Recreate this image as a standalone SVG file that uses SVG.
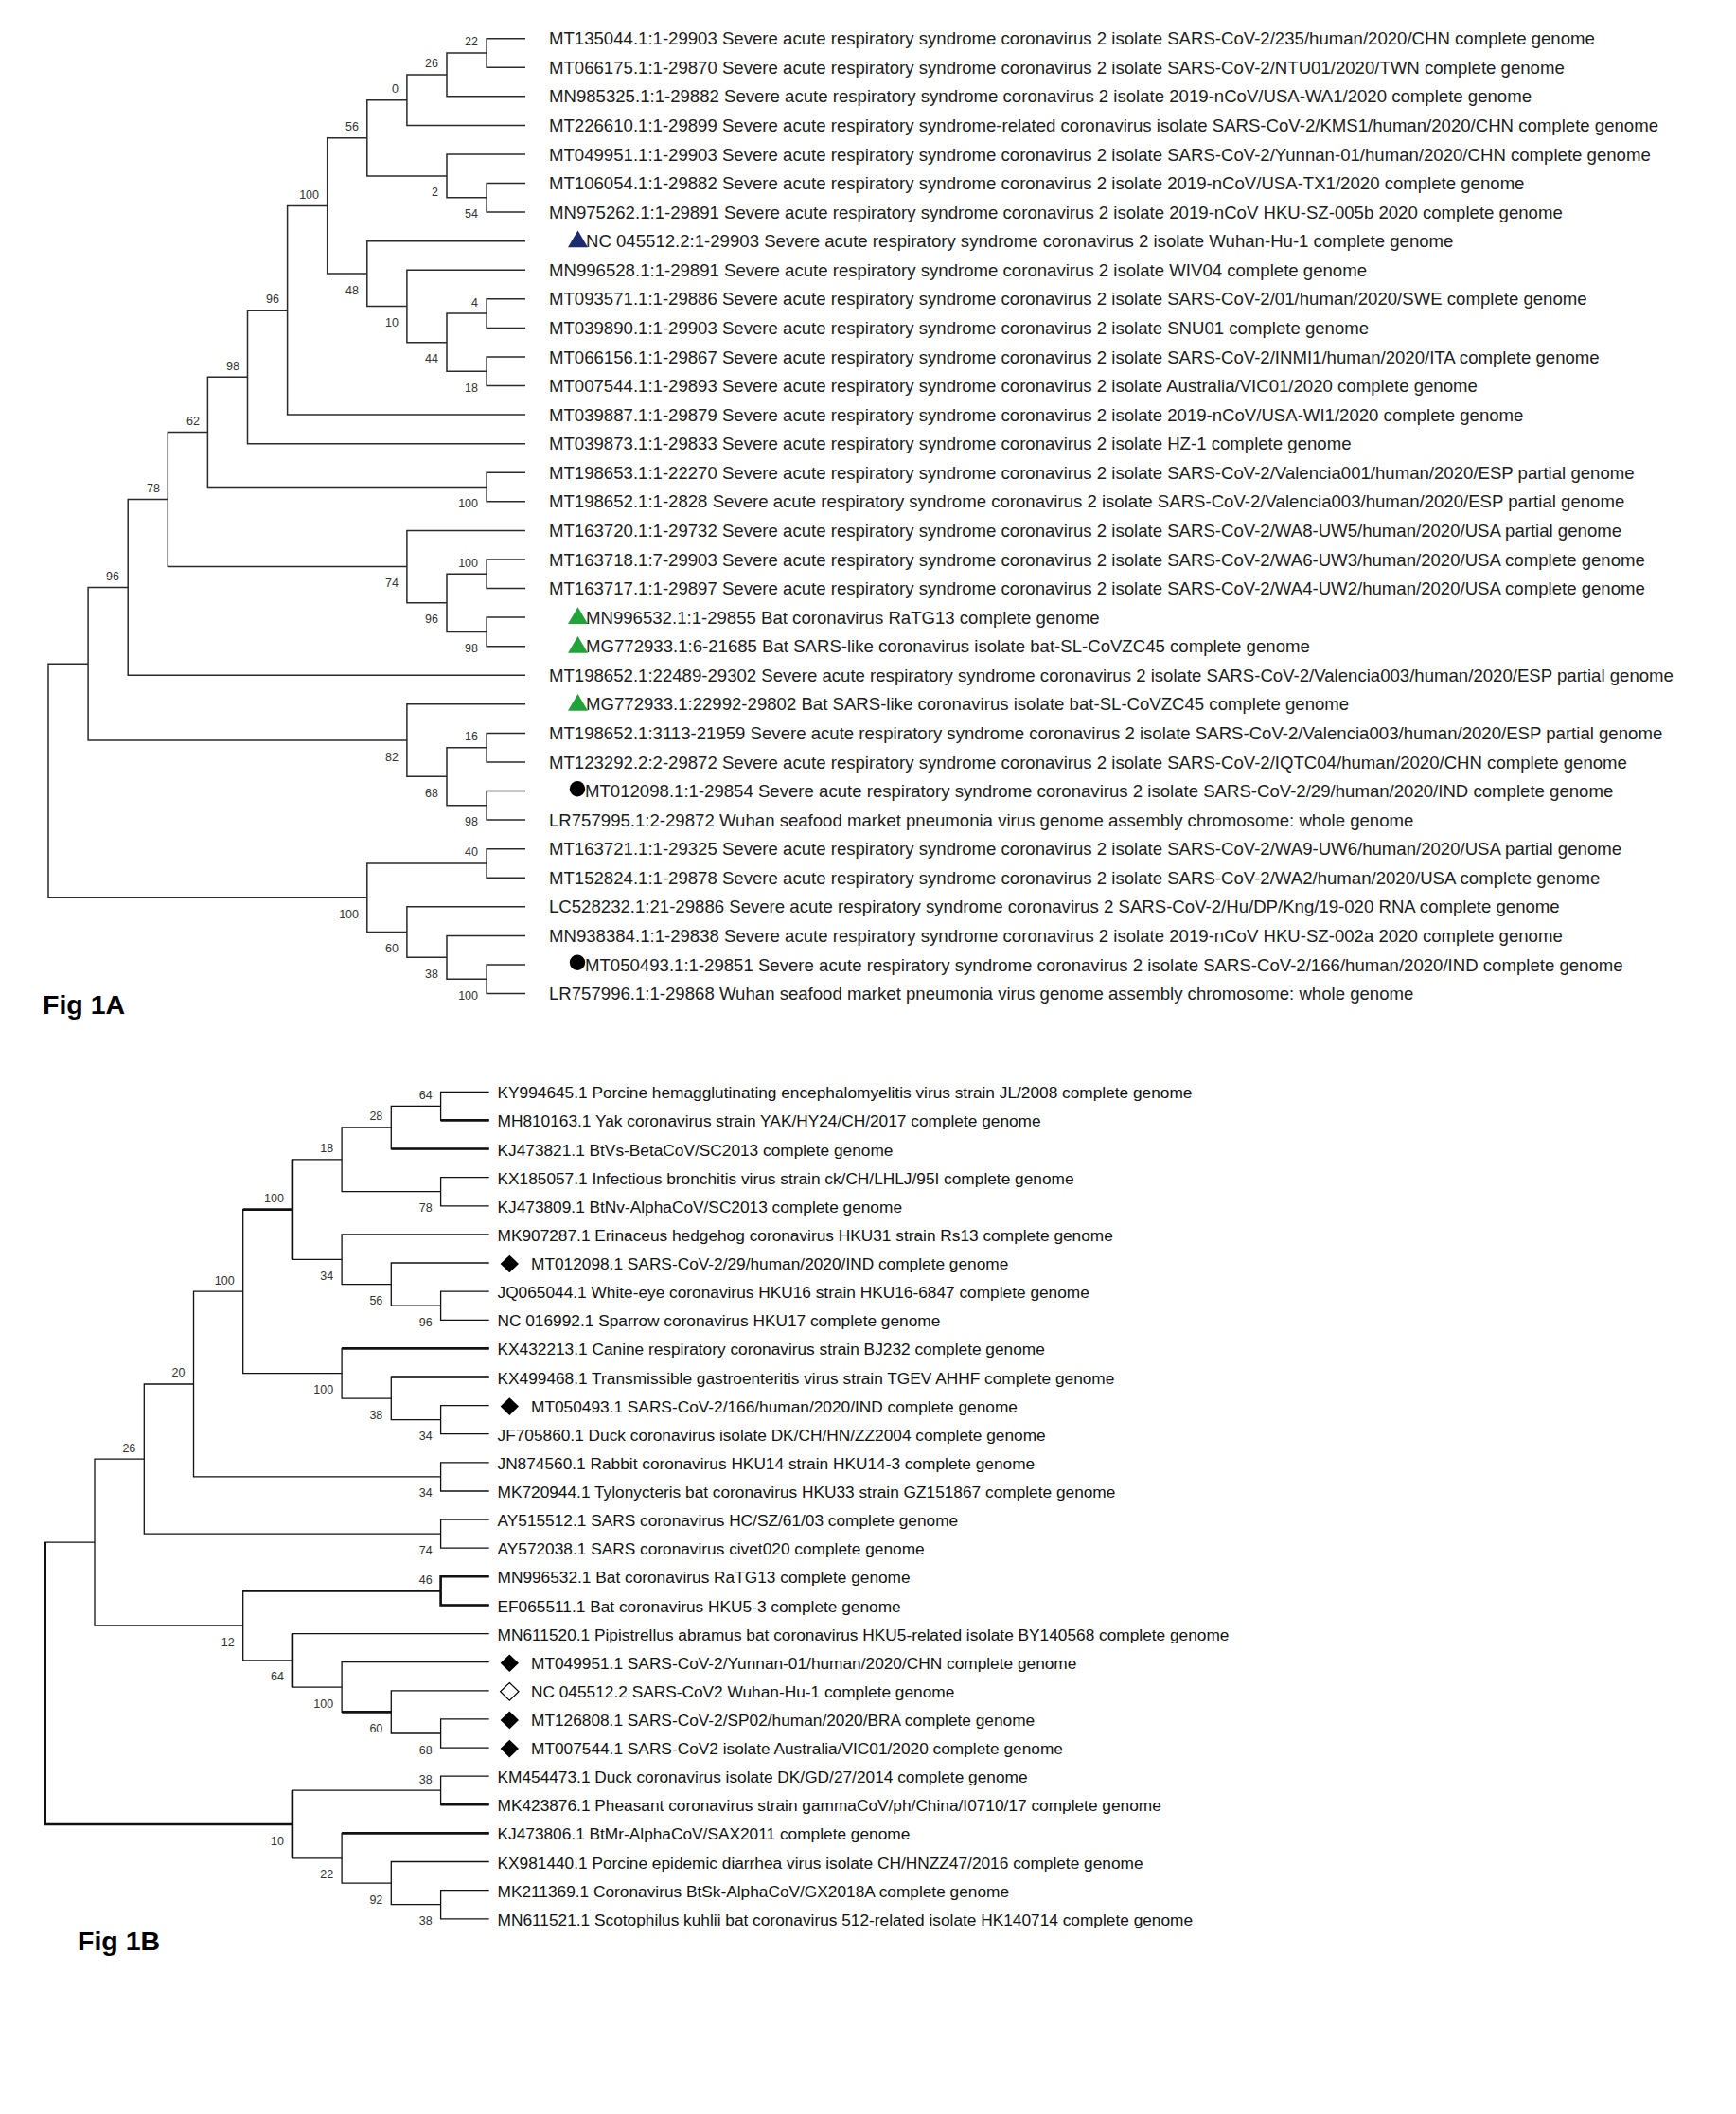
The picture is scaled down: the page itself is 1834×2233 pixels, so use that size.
<svg xmlns="http://www.w3.org/2000/svg" width="1834" height="2233" viewBox="0 0 1834 2233">
<style>
.ta{font-family:"Liberation Sans",Arial,sans-serif;font-size:18.6px;fill:#1c1c1c}
.tb{font-family:"Liberation Sans",Arial,sans-serif;font-size:17.3px;fill:#111}
.bs{font-family:"Liberation Sans",Arial,sans-serif;font-size:12.5px;fill:#333;text-anchor:end}
.ea{fill:none;stroke:#2a2a2a;stroke-width:1.5}
.eb{fill:none;stroke:#111;stroke-width:1.3}
.tk{fill:none;stroke:#111;stroke-width:2.6}
.fig{font-family:"Liberation Sans",Arial,sans-serif;font-size:28.5px;font-weight:bold;fill:#000}
.tri-n{fill:#1c2a6e}
.tri-g{fill:#22a33a}
.dot{fill:#000}
.dia{fill:#000}
.dia-o{fill:#fff;stroke:#000;stroke-width:1.2}
</style>
<rect width="1834" height="2233" fill="#fff"/>

<g id="connectors-1A" class="ea">
<path d="M555,40.7H514.1V71.3H555"/>
<path d="M514.1,56H472V101.8H555"/>
<path d="M472,78.9H429.9V132.4H555"/>
<path d="M555,193.6H514.1V224.1H555"/>
<path d="M555,163H472V208.8H514.1"/>
<path d="M429.9,105.7H387.8V185.9H472"/>
<path d="M555,315.8H514.1V346.4H555"/>
<path d="M555,377H514.1V407.5H555"/>
<path d="M514.1,331.1H472V392.3H514.1"/>
<path d="M555,285.3H429.9V361.7H472"/>
<path d="M555,254.7H387.8V323.5H429.9"/>
<path d="M387.8,145.8H345.7V289.1H387.8"/>
<path d="M345.7,217.4H303.6V438.1H555"/>
<path d="M303.6,327.8H261.5V468.7H555"/>
<path d="M555,499.3H514.1V529.8H555"/>
<path d="M261.5,398.2H219.4V514.5H514.1"/>
<path d="M555,591H514.1V621.5H555"/>
<path d="M555,652.1H514.1V682.7H555"/>
<path d="M514.1,606.3H472V667.4H514.1"/>
<path d="M555,560.4H429.9V636.8H472"/>
<path d="M219.4,456.4H177.3V598.6H429.9"/>
<path d="M177.3,527.5H135.2V713.2H555"/>
<path d="M555,774.4H514.1V805H555"/>
<path d="M555,835.5H514.1V866.1H555"/>
<path d="M514.1,789.7H472V850.8H514.1"/>
<path d="M555,743.8H429.9V820.2H472"/>
<path d="M135.2,620.4H93.1V782H429.9"/>
<path d="M555,896.7H514.1V927.2H555"/>
<path d="M555,1018.9H514.1V1049.5H555"/>
<path d="M555,988.4H472V1034.2H514.1"/>
<path d="M555,957.8H429.9V1011.3H472"/>
<path d="M514.1,912H387.8V984.6H429.9"/>
<path d="M93.1,701.2H51V948.3H387.8"/>
</g>

<g id="support-1A" class="bs">
<text x="505" y="48.4">22</text>
<text x="463" y="71.3">26</text>
<text x="421" y="98">0</text>
<text x="379" y="138.2">56</text>
<text x="463" y="207.4">2</text>
<text x="505" y="230.3">54</text>
<text x="337" y="209.8">100</text>
<text x="379" y="310.6">48</text>
<text x="505" y="323.5">4</text>
<text x="421" y="345">10</text>
<text x="463" y="383.2">44</text>
<text x="505" y="413.8">18</text>
<text x="295" y="320.2">96</text>
<text x="253" y="390.6">98</text>
<text x="211" y="448.8">62</text>
<text x="505" y="536">100</text>
<text x="169" y="519.9">78</text>
<text x="421" y="620.1">74</text>
<text x="505" y="598.7">100</text>
<text x="463" y="658.3">96</text>
<text x="505" y="688.9">98</text>
<text x="126" y="612.8">96</text>
<text x="505" y="782.1">16</text>
<text x="421" y="803.5">82</text>
<text x="463" y="841.7">68</text>
<text x="505" y="872.3">98</text>
<text x="505" y="904.4">40</text>
<text x="379" y="969.8">100</text>
<text x="421" y="1006.1">60</text>
<text x="463" y="1032.8">38</text>
<text x="505" y="1055.7">100</text>
</g>

<g id="leaves-1A" class="ta">
<g id="a0"><text x="580" y="47.3">MT135044.1:1-29903 Severe acute respiratory syndrome coronavirus 2 isolate SARS-CoV-2/235/human/2020/CHN complete genome</text></g>
<g id="a1"><text x="580" y="77.9">MT066175.1:1-29870 Severe acute respiratory syndrome coronavirus 2 isolate SARS-CoV-2/NTU01/2020/TWN complete genome</text></g>
<g id="a2"><text x="580" y="108.4">MN985325.1:1-29882 Severe acute respiratory syndrome coronavirus 2 isolate 2019-nCoV/USA-WA1/2020 complete genome</text></g>
<g id="a3"><text x="580" y="139">MT226610.1:1-29899 Severe acute respiratory syndrome-related coronavirus isolate SARS-CoV-2/KMS1/human/2020/CHN complete genome</text></g>
<g id="a4"><text x="580" y="169.6">MT049951.1:1-29903 Severe acute respiratory syndrome coronavirus 2 isolate SARS-CoV-2/Yunnan-01/human/2020/CHN complete genome</text></g>
<g id="a5"><text x="580" y="200.2">MT106054.1:1-29882 Severe acute respiratory syndrome coronavirus 2 isolate 2019-nCoV/USA-TX1/2020 complete genome</text></g>
<g id="a6"><text x="580" y="230.7">MN975262.1:1-29891 Severe acute respiratory syndrome coronavirus 2 isolate 2019-nCoV HKU-SZ-005b 2020 complete genome</text></g>
<g id="a7"><polygon class="tri-n" points="600,261.2 621,261.2 610.5,243.5"/><text x="619" y="261.3">NC 045512.2:1-29903 Severe acute respiratory syndrome coronavirus 2 isolate Wuhan-Hu-1 complete genome</text></g>
<g id="a8"><text x="580" y="291.9">MN996528.1:1-29891 Severe acute respiratory syndrome coronavirus 2 isolate WIV04 complete genome</text></g>
<g id="a9"><text x="580" y="322.4">MT093571.1:1-29886 Severe acute respiratory syndrome coronavirus 2 isolate SARS-CoV-2/01/human/2020/SWE complete genome</text></g>
<g id="a10"><text x="580" y="353">MT039890.1:1-29903 Severe acute respiratory syndrome coronavirus 2 isolate SNU01 complete genome</text></g>
<g id="a11"><text x="580" y="383.6">MT066156.1:1-29867 Severe acute respiratory syndrome coronavirus 2 isolate SARS-CoV-2/INMI1/human/2020/ITA complete genome</text></g>
<g id="a12"><text x="580" y="414.1">MT007544.1:1-29893 Severe acute respiratory syndrome coronavirus 2 isolate Australia/VIC01/2020 complete genome</text></g>
<g id="a13"><text x="580" y="444.7">MT039887.1:1-29879 Severe acute respiratory syndrome coronavirus 2 isolate 2019-nCoV/USA-WI1/2020 complete genome</text></g>
<g id="a14"><text x="580" y="475.3">MT039873.1:1-29833 Severe acute respiratory syndrome coronavirus 2 isolate HZ-1 complete genome</text></g>
<g id="a15"><text x="580" y="505.9">MT198653.1:1-22270 Severe acute respiratory syndrome coronavirus 2 isolate SARS-CoV-2/Valencia001/human/2020/ESP partial genome</text></g>
<g id="a16"><text x="580" y="536.4">MT198652.1:1-2828 Severe acute respiratory syndrome coronavirus 2 isolate SARS-CoV-2/Valencia003/human/2020/ESP partial genome</text></g>
<g id="a17"><text x="580" y="567">MT163720.1:1-29732 Severe acute respiratory syndrome coronavirus 2 isolate SARS-CoV-2/WA8-UW5/human/2020/USA partial genome</text></g>
<g id="a18"><text x="580" y="597.6">MT163718.1:7-29903 Severe acute respiratory syndrome coronavirus 2 isolate SARS-CoV-2/WA6-UW3/human/2020/USA complete genome</text></g>
<g id="a19"><text x="580" y="628.1">MT163717.1:1-29897 Severe acute respiratory syndrome coronavirus 2 isolate SARS-CoV-2/WA4-UW2/human/2020/USA complete genome</text></g>
<g id="a20"><polygon class="tri-g" points="600,659.1 621,659.1 610.5,641.3"/><text x="619" y="658.7">MN996532.1:1-29855 Bat coronavirus RaTG13 complete genome</text></g>
<g id="a21"><polygon class="tri-g" points="600,689.7 621,689.7 610.5,671.9"/><text x="619" y="689.3">MG772933.1:6-21685 Bat SARS-like coronavirus isolate bat-SL-CoVZC45 complete genome</text></g>
<g id="a22"><text x="580" y="719.8">MT198652.1:22489-29302 Severe acute respiratory syndrome coronavirus 2 isolate SARS-CoV-2/Valencia003/human/2020/ESP partial genome</text></g>
<g id="a23"><polygon class="tri-g" points="600,750.8 621,750.8 610.5,733"/><text x="619" y="750.4">MG772933.1:22992-29802 Bat SARS-like coronavirus isolate bat-SL-CoVZC45 complete genome</text></g>
<g id="a24"><text x="580" y="781">MT198652.1:3113-21959 Severe acute respiratory syndrome coronavirus 2 isolate SARS-CoV-2/Valencia003/human/2020/ESP partial genome</text></g>
<g id="a25"><text x="580" y="811.6">MT123292.2:2-29872 Severe acute respiratory syndrome coronavirus 2 isolate SARS-CoV-2/IQTC04/human/2020/CHN complete genome</text></g>
<g id="a26"><circle class="dot" cx="610" cy="833.3" r="8.2"/><text x="618" y="842.1">MT012098.1:1-29854 Severe acute respiratory syndrome coronavirus 2 isolate SARS-CoV-2/29/human/2020/IND complete genome</text></g>
<g id="a27"><text x="580" y="872.7">LR757995.1:2-29872 Wuhan seafood market pneumonia virus genome assembly chromosome: whole genome</text></g>
<g id="a28"><text x="580" y="903.3">MT163721.1:1-29325 Severe acute respiratory syndrome coronavirus 2 isolate SARS-CoV-2/WA9-UW6/human/2020/USA partial genome</text></g>
<g id="a29"><text x="580" y="933.8">MT152824.1:1-29878 Severe acute respiratory syndrome coronavirus 2 isolate SARS-CoV-2/WA2/human/2020/USA complete genome</text></g>
<g id="a30"><text x="580" y="964.4">LC528232.1:21-29886 Severe acute respiratory syndrome coronavirus 2 SARS-CoV-2/Hu/DP/Kng/19-020 RNA complete genome</text></g>
<g id="a31"><text x="580" y="995">MN938384.1:1-29838 Severe acute respiratory syndrome coronavirus 2 isolate 2019-nCoV HKU-SZ-002a 2020 complete genome</text></g>
<g id="a32"><circle class="dot" cx="610" cy="1016.7" r="8.2"/><text x="618" y="1025.5">MT050493.1:1-29851 Severe acute respiratory syndrome coronavirus 2 isolate SARS-CoV-2/166/human/2020/IND complete genome</text></g>
<g id="a33"><text x="580" y="1056.1">LR757996.1:1-29868 Wuhan seafood market pneumonia virus genome assembly chromosome: whole genome</text></g>
</g>

<text id="title-1A" class="fig" x="45" y="1071">Fig 1A</text>

<g id="connectors-1B">
<g class="eb">
<path d="M516.7,1153.3H465.6V1183.4H516.7"/>
<path d="M465.6,1168.4H413.3V1213.5H516.7"/>
<path d="M516.7,1243.7H465.6V1273.8H516.7"/>
<path d="M413.3,1191H361.1V1258.7H465.6"/>
<path d="M516.7,1364.1H465.6V1394.3H516.7"/>
<path d="M516.7,1334H413.3V1379.2H465.6"/>
<path d="M516.7,1303.9H361.1V1356.6H413.3"/>
<path d="M361.1,1224.8H308.9V1330.3H361.1"/>
<path d="M516.7,1484.6H465.6V1514.7H516.7"/>
<path d="M516.7,1454.5H413.3V1499.7H465.6"/>
<path d="M516.7,1424.4H361.1V1477.1H413.3"/>
<path d="M308.9,1277.6H256.7V1450.7H361.1"/>
<path d="M516.7,1544.9H465.6V1575H516.7"/>
<path d="M256.7,1364.1H204.5V1559.9H465.6"/>
<path d="M516.7,1605.1H465.6V1635.2H516.7"/>
<path d="M204.5,1462H152.3V1620.2H465.6"/>
<path d="M516.7,1665.3H465.6V1695.5H516.7"/>
<path d="M516.7,1815.9H465.6V1846.1H516.7"/>
<path d="M516.7,1785.8H413.3V1831H465.6"/>
<path d="M516.7,1755.7H361.1V1808.4H413.3"/>
<path d="M516.7,1725.6H308.9V1782.1H361.1"/>
<path d="M465.6,1680.4H256.7V1753.8H308.9"/>
<path d="M152.3,1541.1H100V1717.1H256.7"/>
<path d="M516.7,1876.2H465.6V1906.3H516.7"/>
<path d="M516.7,1996.7H465.6V2026.8H516.7"/>
<path d="M516.7,1966.5H413.3V2011.7H465.6"/>
<path d="M516.7,1936.4H361.1V1989.1H413.3"/>
<path d="M465.6,1891.2H308.9V1962.8H361.1"/>
<path d="M100,1629.1H47.7V1927H308.9"/>
</g>
<g class="tk">
<path d="M465.6,1183.4H516.7"/>
<path d="M413.3,1213.5H516.7"/>
<path d="M308.9,1224.8V1330.3M256.7,1277.6H308.9"/>
<path d="M361.1,1424.4H516.7"/>
<path d="M413.3,1454.5H516.7"/>
<path d="M516.7,1665.3H465.6V1695.5H516.7M256.7,1680.4H465.6"/>
<path d="M308.9,1725.6V1782.1"/>
<path d="M47.7,1629.1V1927H308.9"/>
<path d="M308.9,1891.2V1962.8"/>
<path d="M361.1,1808.4H413.3"/>
<path d="M361.1,1936.4H516.7"/>
<path d="M465.6,1906.3H516.7"/>
</g>
</g>

<g id="support-1B" class="bs">
<text x="456.6" y="1160.8">64</text>
<text x="404.3" y="1183.4">28</text>
<text x="352.1" y="1217.2">18</text>
<text x="456.6" y="1280.2">78</text>
<text x="299.9" y="1270">100</text>
<text x="352.1" y="1351.8">34</text>
<text x="404.3" y="1378.1">56</text>
<text x="456.6" y="1400.7">96</text>
<text x="247.7" y="1356.5">100</text>
<text x="352.1" y="1472.2">100</text>
<text x="404.3" y="1498.6">38</text>
<text x="456.6" y="1521.2">34</text>
<text x="195.5" y="1454.4">20</text>
<text x="456.6" y="1581.4">34</text>
<text x="143.3" y="1533.5">26</text>
<text x="456.6" y="1641.7">74</text>
<text x="456.6" y="1672.8">46</text>
<text x="247.7" y="1738.6">12</text>
<text x="299.9" y="1775.3">64</text>
<text x="352.1" y="1803.6">100</text>
<text x="404.3" y="1829.9">60</text>
<text x="456.6" y="1852.5">68</text>
<text x="456.6" y="1883.6">38</text>
<text x="299.9" y="1948.5">10</text>
<text x="352.1" y="1984.3">22</text>
<text x="404.3" y="2010.6">92</text>
<text x="456.6" y="2033.2">38</text>
</g>

<g id="leaves-1B" class="tb">
<g id="b0"><text x="525.5" y="1160.3">KY994645.1 Porcine hemagglutinating encephalomyelitis virus strain JL/2008 complete genome</text></g>
<g id="b1"><text x="525.5" y="1190.4">MH810163.1 Yak coronavirus strain YAK/HY24/CH/2017 complete genome</text></g>
<g id="b2"><text x="525.5" y="1220.5">KJ473821.1 BtVs-BetaCoV/SC2013 complete genome</text></g>
<g id="b3"><text x="525.5" y="1250.7">KX185057.1 Infectious bronchitis virus strain ck/CH/LHLJ/95I complete genome</text></g>
<g id="b4"><text x="525.5" y="1280.8">KJ473809.1 BtNv-AlphaCoV/SC2013 complete genome</text></g>
<g id="b5"><text x="525.5" y="1310.9">MK907287.1 Erinaceus hedgehog coronavirus HKU31 strain Rs13 complete genome</text></g>
<g id="b6"><polygon class="dia" points="538.3,1325.7 548,1335 538.3,1344.3 528.6,1335"/><text x="561" y="1341">MT012098.1 SARS-CoV-2/29/human/2020/IND complete genome</text></g>
<g id="b7"><text x="525.5" y="1371.1">JQ065044.1 White-eye coronavirus HKU16 strain HKU16-6847 complete genome</text></g>
<g id="b8"><text x="525.5" y="1401.3">NC 016992.1 Sparrow coronavirus HKU17 complete genome</text></g>
<g id="b9"><text x="525.5" y="1431.4">KX432213.1 Canine respiratory coronavirus strain BJ232 complete genome</text></g>
<g id="b10"><text x="525.5" y="1461.5">KX499468.1 Transmissible gastroenteritis virus strain TGEV AHHF complete genome</text></g>
<g id="b11"><polygon class="dia" points="538.3,1476.3 548,1485.6 538.3,1494.9 528.6,1485.6"/><text x="561" y="1491.6">MT050493.1 SARS-CoV-2/166/human/2020/IND complete genome</text></g>
<g id="b12"><text x="525.5" y="1521.7">JF705860.1 Duck coronavirus isolate DK/CH/HN/ZZ2004 complete genome</text></g>
<g id="b13"><text x="525.5" y="1551.9">JN874560.1 Rabbit coronavirus HKU14 strain HKU14-3 complete genome</text></g>
<g id="b14"><text x="525.5" y="1582">MK720944.1 Tylonycteris bat coronavirus HKU33 strain GZ151867 complete genome</text></g>
<g id="b15"><text x="525.5" y="1612.1">AY515512.1 SARS coronavirus HC/SZ/61/03 complete genome</text></g>
<g id="b16"><text x="525.5" y="1642.2">AY572038.1 SARS coronavirus civet020 complete genome</text></g>
<g id="b17"><text x="525.5" y="1672.3">MN996532.1 Bat coronavirus RaTG13 complete genome</text></g>
<g id="b18"><text x="525.5" y="1702.5">EF065511.1 Bat coronavirus HKU5-3 complete genome</text></g>
<g id="b19"><text x="525.5" y="1732.6">MN611520.1 Pipistrellus abramus bat coronavirus HKU5-related isolate BY140568 complete genome</text></g>
<g id="b20"><polygon class="dia" points="538.3,1747.4 548,1756.7 538.3,1766 528.6,1756.7"/><text x="561" y="1762.7">MT049951.1 SARS-CoV-2/Yunnan-01/human/2020/CHN complete genome</text></g>
<g id="b21"><polygon class="dia-o" points="538.3,1777.5 548,1786.8 538.3,1796.1 528.6,1786.8"/><text x="561" y="1792.8">NC 045512.2 SARS-CoV2 Wuhan-Hu-1 complete genome</text></g>
<g id="b22"><polygon class="dia" points="538.3,1807.6 548,1816.9 538.3,1826.2 528.6,1816.9"/><text x="561" y="1822.9">MT126808.1 SARS-CoV-2/SP02/human/2020/BRA complete genome</text></g>
<g id="b23"><polygon class="dia" points="538.3,1837.8 548,1847.1 538.3,1856.4 528.6,1847.1"/><text x="561" y="1853.1">MT007544.1 SARS-CoV2 isolate Australia/VIC01/2020 complete genome</text></g>
<g id="b24"><text x="525.5" y="1883.2">KM454473.1 Duck coronavirus isolate DK/GD/27/2014 complete genome</text></g>
<g id="b25"><text x="525.5" y="1913.3">MK423876.1 Pheasant coronavirus strain gammaCoV/ph/China/I0710/17 complete genome</text></g>
<g id="b26"><text x="525.5" y="1943.4">KJ473806.1 BtMr-AlphaCoV/SAX2011 complete genome</text></g>
<g id="b27"><text x="525.5" y="1973.5">KX981440.1 Porcine epidemic diarrhea virus isolate CH/HNZZ47/2016 complete genome</text></g>
<g id="b28"><text x="525.5" y="2003.7">MK211369.1 Coronavirus BtSk-AlphaCoV/GX2018A complete genome</text></g>
<g id="b29"><text x="525.5" y="2033.8">MN611521.1 Scotophilus kuhlii bat coronavirus 512-related isolate HK140714 complete genome</text></g>
</g>

<text id="title-1B" class="fig" x="82" y="2060">Fig 1B</text>
</svg>
